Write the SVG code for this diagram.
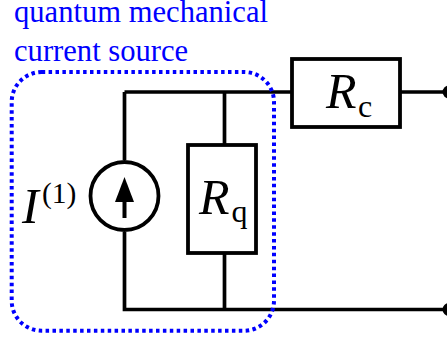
<svg xmlns="http://www.w3.org/2000/svg" width="447" height="341" viewBox="0 0 447 341">
<style>
.w{fill:none;stroke:#000;stroke-width:3.7}
.b{fill:#fff;stroke:#000;stroke-width:3.8}
.l{font-family:"Liberation Serif",serif;font-size:30.600px;fill:#0000ff}
.i{font-family:"Liberation Serif",serif;font-style:italic;font-size:50px;fill:#000}
.s{font-family:"Liberation Serif",serif;font-size:32px;fill:#000}
.p{font-family:"Liberation Serif",serif;font-size:29.500px;fill:#000}
</style>
<rect width="447" height="341" fill="#fff"/>
<g id="connectors">
<path class="w" d="M124.500 92H292M400 92H447M124.500 92V160M124.500 232V309.500H447M224.500 92V145M224.500 253V309.500"/>
<circle cx="449" cy="92" r="6.500"/>
<circle cx="449" cy="309.500" r="6.500"/>
</g>
<g id="boundary"><rect x="11.700" y="72" width="262.300" height="258.700" rx="30" fill="none" stroke="#0000ff" stroke-width="4" stroke-dasharray="3.500 3.400"/></g>
<g id="label-top"><text class="l" x="14" y="22">quantum mechanical</text><text class="l" x="14" y="60.500">current source</text></g>
<g id="source">
<circle cx="124.500" cy="196" r="34" fill="#fff" stroke="#000" stroke-width="3.800"/>
<path d="M124.500 190V218" stroke="#000" stroke-width="4"/>
<path d="M124.500 177L115 202H134Z"/>
<text class="i" x="22" y="223">I</text><text class="p" x="42" y="203">(1)</text>
</g>
<g id="rq"><rect class="b" x="188" y="145" width="68" height="108"/>
<text class="i" x="199" y="214">R</text><text class="s" x="231.500" y="222">q</text></g>
<g id="rc"><rect class="b" x="292" y="59" width="108" height="68"/>
<text class="i" x="326" y="108">R</text><text class="s" x="358" y="117">c</text></g>
</svg>
